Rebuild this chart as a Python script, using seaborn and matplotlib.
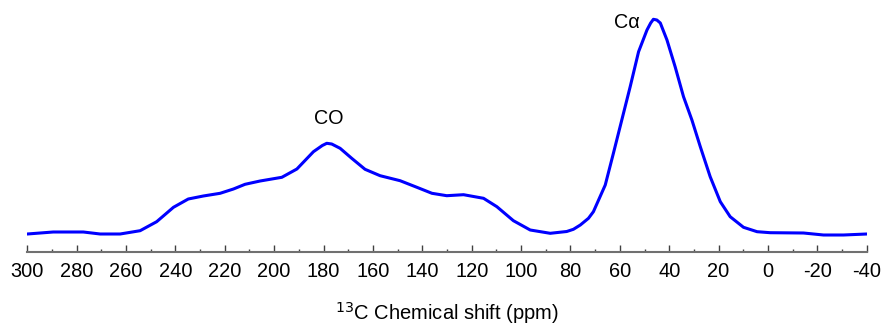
import matplotlib
matplotlib.use("Agg")
import matplotlib.pyplot as plt
import seaborn as sns
import pandas as pd
from matplotlib.ticker import MultipleLocator

# chemical shift (ppm) and intensity (arbitrary units)
shift = [300, 289.5, 277.3, 270.5, 262.4, 254.3, 247.6, 240.8, 234.8, 228.7,
         221.9, 216.5, 211.8, 205.7, 196.9, 190.8, 184.1, 180.5, 178.7, 176.7,
         173.3, 168.6, 163.2, 157.1, 149, 142.2, 136.1, 130.1, 123.3, 115.2,
         109.8, 103.1, 96.3, 88.2, 81.5, 78.8, 76, 72.7, 70.7, 65.9, 62.6, 59.2,
         55.8, 52.4, 49, 47.5, 46.4, 45.0, 43.6, 40.9, 37.6, 34.2, 30.8, 27.4,
         23.4, 19.3, 15.3, 9.9, 4.4, -0.9, -14.4, -22.5, -30.6, -40]
intensity = [0, 2, 2, 0, 0, 3.3, 12.3, 26.7, 35, 38,
             40.7, 45, 49.7, 53, 56.7, 65, 82.3, 88.5, 90.7, 90,
             85.7, 75.7, 64.7, 58.3, 53.3, 46.7, 40.7, 38.3, 39.3, 35.7,
             27.3, 13.3, 4, 0.7, 2.5, 4.7, 9, 15.7, 22.3, 49, 80.7, 114,
             147.3, 182.3, 204, 211, 214.7, 214, 211, 194, 167.3, 137.3, 114, 87.3,
             57.3, 32.3, 17.3, 6.7, 2.3, 1.3, 1, -1, -1, 0]

peak_labels = ["CO", "C\u03b1"]
peak_pos = [178, 57]
peak_y = [116, 212]

xticks = list(range(300, -41, -20))

sns.set_theme(style="white")
plt.rcParams['font.family'] = ['Liberation Sans', 'DejaVu Sans']

fig = plt.figure(figsize=(8.85, 3.27), dpi=100)
ax = fig.add_axes([27.3 / 885, 75 / 327, (866.7 - 27.3) / 885, 242 / 327])

df = pd.DataFrame({"shift": shift, "intensity": intensity})
sns.lineplot(data=df, x="shift", y="intensity", ax=ax, color="#0000ff",
             linewidth=2.2, sort=False, estimator=None)
ax.lines[0].set_solid_joinstyle("round")

ax.set_xlim(300, -40)
ax.set_ylim(-18, 224)
ax.set_xticks(xticks)
ax.set_xticklabels([str(t) for t in xticks])
ax.xaxis.set_minor_locator(MultipleLocator(10))
ax.set_yticks([])
ax.set_ylabel("")
for s in ["top", "left", "right"]:
    ax.spines[s].set_visible(False)
ax.spines["bottom"].set_color("#707070")
ax.spines["bottom"].set_linewidth(1.5)
ax.tick_params(axis="x", which="major", direction="in", length=5, width=1,
               color="#404040", labelsize=14.4, pad=7, bottom=True,
               labelcolor="black")
ax.tick_params(axis="x", which="minor", direction="in", length=2.5, width=1,
               color="#404040", bottom=True)
ax.set_xlabel("$^{13}$C Chemical shift (ppm)", fontsize=14.5, labelpad=14,
              color="black")

for lab, xp, yp in zip(peak_labels, peak_pos, peak_y):
    ax.text(xp, yp, lab, fontsize=14.2, ha="center", va="center", color="black")

fig.savefig("out.png", dpi=100)
